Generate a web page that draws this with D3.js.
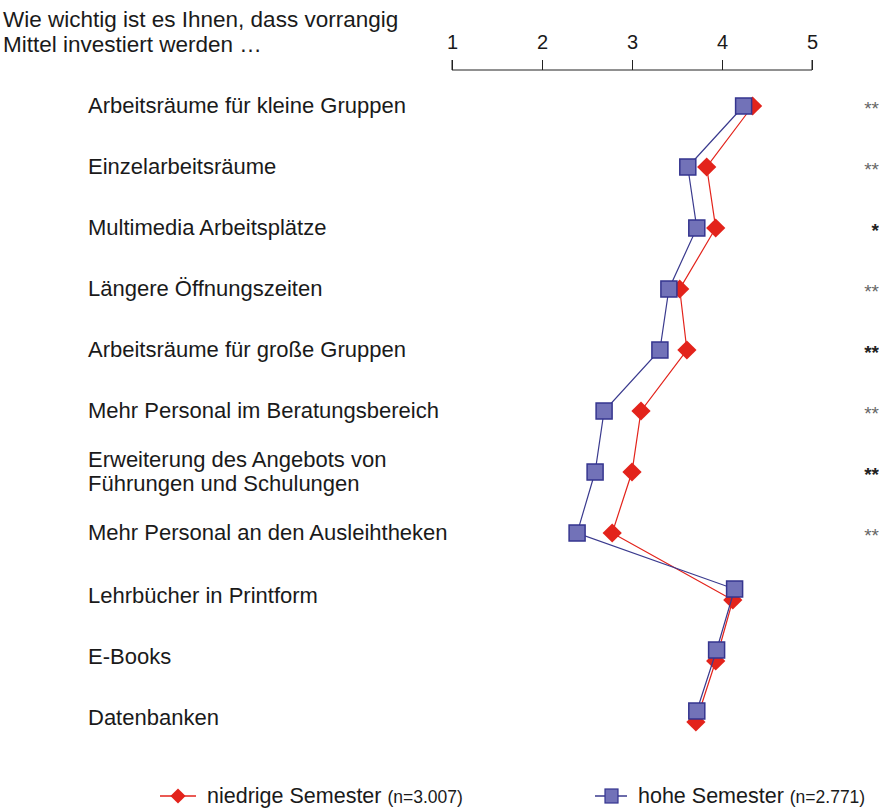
<!DOCTYPE html>
<html>
<head>
<meta charset="utf-8">
<script src="https://cdn.jsdelivr.net/npm/d3@7/dist/d3.min.js"></script>
<style>
  html, body { margin: 0; padding: 0; background: #fff; }
  svg { display: block; }
  text { font-family: "Liberation Sans", Arial, sans-serif; fill: #1a1a1a; }
</style>
</head>
<body>
<svg id="chart" width="879" height="808"></svg>
<script>
// ---------- data ----------
const titleLines = ["Wie wichtig ist es Ihnen, dass vorrangig", "Mittel investiert werden \u2026"];
const categories = [
  "Arbeitsräume für kleine Gruppen",
  "Einzelarbeitsräume",
  "Multimedia Arbeitsplätze",
  "Längere Öffnungszeiten",
  "Arbeitsräume für große Gruppen",
  "Mehr Personal im Beratungsbereich",
  "Erweiterung des Angebots von|Führungen und Schulungen",
  "Mehr Personal an den Ausleihtheken",
  "Lehrbücher in Printform",
  "E-Books",
  "Datenbanken"
];
const groups = ["a","a","a","a","a","a","a","a","b","b","b"];
const niedrige = [4.34, 3.83, 3.93, 3.53, 3.61, 3.10, 3.00, 2.78, 4.12, 3.93, 3.71];
const hohe     = [4.24, 3.62, 3.72, 3.41, 3.31, 2.69, 2.59, 2.39, 4.14, 3.94, 3.72];
const significance = ["**", "**", "*", "**", "**", "**", "**", "**", "", "", ""];
const sigStrong = [false, false, true, false, true, false, true, false, false, false, false];
const tickValues = [1, 2, 3, 4, 5];
const seriesNames = ["niedrige Semester", "hohe Semester"];
const seriesN = ["(n=3.007)", "(n=2.771)"];

// ---------- layout ----------
const svg = d3.select("#chart");
const x = d3.scaleLinear().domain([1, 5]).range([452, 812]);
const yA = d3.scalePoint().domain(categories.slice(0, 8)).range([106, 533]);
const yB = d3.scalePoint().domain(categories.slice(8)).range([594, 716]);
const yCat = (c, i) => groups[i] === "a" ? yA(c) : yB(c);
const offRed = i => groups[i] === "b" ? 6 : 0;
const offBlue = i => groups[i] === "b" ? -5 : 0;

const RED = "#e3231b";
const BLUE_LINE = "#3a3a8e";
const BLUE_FILL = "#7272b8";
const BLUE_STROKE = "#35358f";

// title
svg.append("g").selectAll("text").data(titleLines).join("text")
  .attr("x", 3).attr("y", (d, i) => 27 + i * 25)
  .style("font-size", "22.5px")
  .text(d => d);

// axis
const axis = d3.axisTop(x).tickValues(tickValues).tickSize(10).tickPadding(11).tickFormat(d3.format("d"));
const gAxis = svg.append("g").attr("transform", "translate(0,70)").call(axis);
gAxis.select(".domain").attr("stroke", "#222").attr("stroke-width", 1).attr("d", `M${x(1)},-10V0H${x(5)}V-10`);
gAxis.selectAll(".tick line").attr("stroke", "#222");
gAxis.selectAll(".tick text").style("font-size", "20px").attr("fill", "#1a1a1a")
  .style("font-family", "'Liberation Sans', Arial, sans-serif");

// category labels
const gLab = svg.append("g");
categories.forEach((c, i) => {
  const lines = c.split("|");
  const cy = groups[i] === "a" ? yCat(c, i) : yCat(c, i) + 2;
  const t = gLab.append("text").attr("x", 88).style("font-size", "22px");
  lines.forEach((l, j) => {
    t.append("tspan").attr("x", 88)
      .attr("y", cy + 7 + (j - (lines.length - 1) / 2) * 24)
      .text(l);
  });
});

// significance
svg.append("g").selectAll("text").data(significance).join("text")
  .attr("x", 879).attr("text-anchor", "end")
  .attr("y", (d, i) => yCat(categories[i], i) + 9)
  .style("font-size", "19px")
  .style("font-weight", (d, i) => sigStrong[i] ? "bold" : "normal")
  .style("fill", (d, i) => sigStrong[i] ? "#222" : "#666")
  .text(d => d);

// red series
const lineRed = d3.line().x(d => x(d.v)).y(d => yCat(d.c, d.i) + offRed(d.i));
const redData = niedrige.map((v, i) => ({ v, c: categories[i], i }));
svg.append("path").datum(redData).attr("d", lineRed)
  .attr("fill", "none").attr("stroke", RED).attr("stroke-width", 1.2);
svg.append("g").selectAll("path").data(redData).join("path")
  .attr("d", d3.symbol(d3.symbolSquare, 185)())
  .attr("transform", d => `translate(${x(d.v)},${yCat(d.c, d.i) + offRed(d.i)}) rotate(45)`)
  .attr("fill", RED);

// blue series
const lineBlue = d3.line().x(d => x(d.v)).y(d => yCat(d.c, d.i) + offBlue(d.i));
const blueData = hohe.map((v, i) => ({ v, c: categories[i], i }));
svg.append("path").datum(blueData).attr("d", lineBlue)
  .attr("fill", "none").attr("stroke", BLUE_LINE).attr("stroke-width", 1.2);
svg.append("g").selectAll("rect").data(blueData).join("rect")
  .attr("x", d => x(d.v) - 8).attr("y", d => yCat(d.c, d.i) + offBlue(d.i) - 8)
  .attr("width", 16).attr("height", 16)
  .attr("fill", BLUE_FILL).attr("stroke", BLUE_STROKE).attr("stroke-width", 1.5);

// legend
const legend = svg.append("g");
const lgY = 796;
legend.append("line").attr("x1", 160).attr("x2", 196).attr("y1", lgY).attr("y2", lgY)
  .attr("stroke", RED).attr("stroke-width", 1.5);
legend.append("path").attr("d", d3.symbol(d3.symbolSquare, 115)())
  .attr("transform", `translate(178,${lgY}) rotate(45)`).attr("fill", RED);
const t1 = legend.append("text").attr("x", 207).attr("y", lgY + 7).style("font-size", "21.5px");
t1.append("tspan").text(seriesNames[0] + " ");
t1.append("tspan").style("font-size", "17.5px").text(seriesN[0]);
legend.append("line").attr("x1", 595).attr("x2", 627).attr("y1", lgY).attr("y2", lgY)
  .attr("stroke", BLUE_LINE).attr("stroke-width", 1.5);
legend.append("rect").attr("x", 605).attr("y", lgY - 7).attr("width", 13).attr("height", 14)
  .attr("fill", BLUE_FILL).attr("stroke", BLUE_STROKE).attr("stroke-width", 1.2);
const t2 = legend.append("text").attr("x", 638).attr("y", lgY + 7).style("font-size", "21.5px");
t2.append("tspan").text(seriesNames[1] + " ");
t2.append("tspan").style("font-size", "17.5px").text(seriesN[1]);
</script>
</body>
</html>
